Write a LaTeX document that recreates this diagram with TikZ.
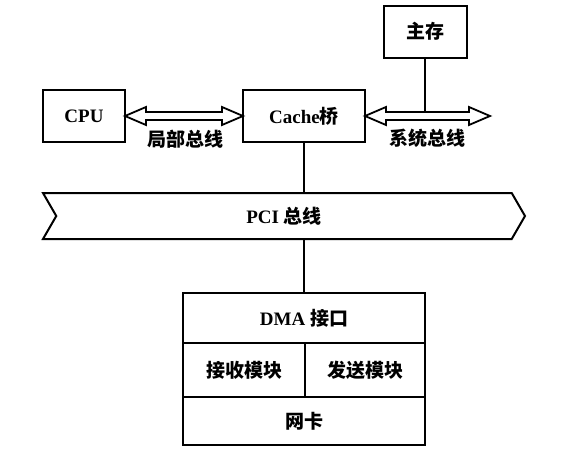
\documentclass[tikz,border=0pt]{standalone}
\usepackage{fontspec}
\setmainfont{Liberation Serif}
\newfontfamily\zh{Noto Sans CJK SC}
\usetikzlibrary{positioning,calc,shapes.symbols}
\newcommand{\busarrow}[2]{%
  \draw[bus] (#1) -- ++(21,-9) -- ++(0,5) -- ($(#2)+(-21,-4)$) -- ++(0,-5) -- (#2)
    -- ++(-21,9) -- ++(0,-5) -- ($(#1)+(21,4)$) -- ++(0,5) -- cycle;}
\tikzset{
  lbl/.style={font=\fontsize{19}{22}\selectfont\bfseries, inner sep=0pt},
  box/.style={lbl, draw, line width=2pt, outer sep=0pt, minimum height=52pt},
  bus/.style={draw, line width=1.8pt, line join=miter},
  wire/.style={line width=2pt}
}
\begin{document}
\begin{tikzpicture}[x=1pt,y=-1pt]
   \useasboundingbox (0,0) rectangle (566,455);
   \node[box, minimum width=82pt]  (cpu)   at (84,116)   {CPU};
   \node[box, minimum width=122pt] (cache) at (304,116)  {Cache{\zh 桥}};
   \node[box, minimum width=83pt]  (mem)   at (425,31.5) {\zh 主存};
   \coordinate (sysend) at (490,116);
   \busarrow{cpu.east}{cache.west}
   \busarrow{cache.east}{sysend}
   \draw[wire] (mem.south) -- ($(mem.south |- sysend)+(0,-4)$);
   \node[lbl] (localbus) at (185,139) {\zh 局部总线};
   \node[lbl] (sysbus)   at (427,138) {\zh 系统总线};
   \node[lbl, draw, line width=2pt, outer sep=0pt, signal, signal from=west, signal to=east,
         signal pointer angle=120, minimum width=482pt, minimum height=46pt]
         (pci) at (284,216) {PCI {\zh 总线}};
   \draw[wire] (cache.south) -- (cache.south |- pci.north);
   \node[box, minimum width=242pt, minimum height=50pt, anchor=north west]
         (dma) at (183,293) {DMA {\zh 接口}};
   \node[box, minimum width=122pt, minimum height=54pt, anchor=north west]
         (recv) at (dma.south west) {\zh 接收模块};
   \node[box, minimum width=120pt, minimum height=54pt, anchor=north west]
         (send) at (recv.north east) {\zh 发送模块};
   \node[box, minimum width=242pt, minimum height=48pt, anchor=north west]
         (nic) at (recv.south west) {\zh 网卡};
   \draw[wire] (pci.south -| dma.north) -- (dma.north);
\end{tikzpicture}
\end{document}
